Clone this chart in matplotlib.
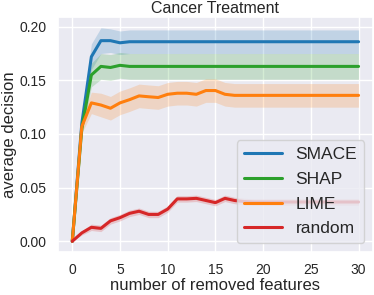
import matplotlib
matplotlib.use('Agg')
import matplotlib.pyplot as plt
import seaborn as sns
import numpy as np

# number of removed features
n_removed = list(range(31))

smace = [0.0, 0.110, 0.172, 0.187, 0.187, 0.185, 0.186] + [0.186] * 24
shap = [0.0, 0.105, 0.155, 0.163, 0.162, 0.164, 0.163] + [0.163] * 24
lime = [0.0, 0.107, 0.129, 0.127, 0.124, 0.129, 0.132, 0.1355, 0.1347, 0.134,
        0.137, 0.138, 0.138, 0.137, 0.1405, 0.1405, 0.137, 0.136] + [0.136] * 13
rand = [0.0, 0.0078, 0.013, 0.012, 0.019, 0.022, 0.026, 0.028, 0.025, 0.025,
        0.030, 0.0395, 0.0395, 0.040, 0.038, 0.036, 0.040, 0.038, 0.037] + [0.0366] * 12

# half width of the confidence bands
smace_ci = [0.0, 0.006, 0.012, 0.012, 0.011, 0.011, 0.011] + [0.011] * 24
shap_ci = [0.0, 0.006, 0.011, 0.012, 0.012, 0.012, 0.012] + [0.012] * 24
lime_ci = [0.0, 0.006, 0.010, 0.011, 0.011, 0.011, 0.011] + [0.011] * 24
rand_ci = [0.0, 0.002] + [0.003] * 29

sns.set_theme(style='darkgrid')
plt.rcParams['font.family'] = ['Liberation Sans', 'DejaVu Sans']

fig = plt.figure(figsize=(3.74, 2.95), dpi=100)
ax = fig.add_axes([0.155, 0.146, 0.842, 0.796])

series = [('SMACE', smace, smace_ci, '#1f77b4'),
          ('SHAP', shap, shap_ci, '#2ca02c'),
          ('LIME', lime, lime_ci, '#ff7f0e'),
          ('random', rand, rand_ci, '#d62728')]
x = np.array(n_removed)
for name, vals, ci, col in series:
    v = np.array(vals)
    c = np.array(ci)
    ax.plot(x, v, color=col, lw=2.2, label=name)
    ax.fill_between(x, v - c, v + c, color=col, alpha=0.2, lw=0)

ax.set_xticks([0, 5, 10, 15, 20, 25, 30])
ax.set_yticks([0.0, 0.05, 0.10, 0.15, 0.20])
ax.set_yticklabels(['0.00', '0.05', '0.10', '0.15', '0.20'])
ax.tick_params(labelsize=10, pad=2)
ax.set_title('Cancer Treatment', fontsize=11.5, pad=3)
ax.set_xlabel('number of removed features', fontsize=12, labelpad=1)
ax.set_ylabel('average decision', fontsize=12, labelpad=2)
ax.legend(loc='lower right', fontsize=12.5, handlelength=2.2,
          labelspacing=0.55, borderaxespad=0.5)

fig.savefig('out.png', dpi=100)
